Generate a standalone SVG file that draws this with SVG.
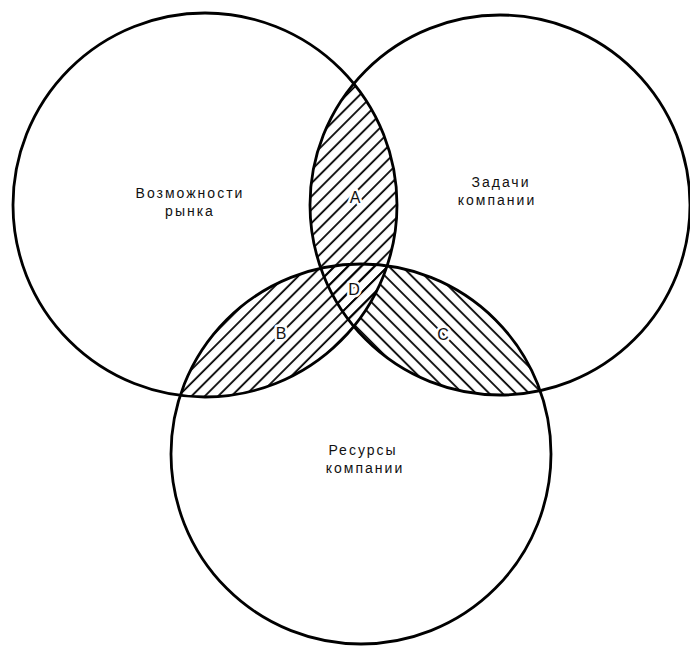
<svg xmlns="http://www.w3.org/2000/svg" width="690" height="648" viewBox="0 0 690 648">
  <style>
    .ring { fill: none; stroke: #000; stroke-width: 2.8; }
    .lbl { font-family: "Liberation Sans", Arial, sans-serif; font-size: 14px; letter-spacing: 2px; fill: #111; text-anchor: middle; }
    .zone { font-family: "Liberation Sans", Arial, sans-serif; font-size: 16px; fill: #111; text-anchor: middle; stroke: #fff; stroke-width: 5; paint-order: stroke; stroke-linejoin: round; }
  </style>
  <defs>
    <pattern id="hatchF" width="9.4" height="20" patternUnits="userSpaceOnUse" patternTransform="rotate(45)">
      <line x1="2" y1="0" x2="2" y2="20" stroke="#000" stroke-width="1.8"/>
    </pattern>
    <pattern id="hatchB" width="9.4" height="20" patternUnits="userSpaceOnUse" patternTransform="rotate(-45)">
      <line x1="2" y1="0" x2="2" y2="20" stroke="#000" stroke-width="1.8"/>
    </pattern>
    <clipPath id="clipL"><circle cx="205" cy="205" r="192"/></clipPath>
    <clipPath id="clipR"><circle cx="500" cy="205" r="190"/></clipPath>
    <mask id="notL" maskUnits="userSpaceOnUse" x="0" y="0" width="690" height="648">
      <rect x="0" y="0" width="690" height="648" fill="#fff"/>
      <circle cx="205" cy="205" r="192" fill="#000"/>
    </mask>
  </defs>
  <rect x="0" y="0" width="690" height="648" fill="#fff"/>

  <g id="hatching">
    <g clip-path="url(#clipL)">
      <circle cx="500" cy="205" r="190" fill="url(#hatchF)"/>
      <circle cx="361" cy="454" r="190" fill="url(#hatchF)"/>
    </g>
    <g clip-path="url(#clipR)">
      <circle cx="361" cy="454" r="190" fill="url(#hatchB)" mask="url(#notL)"/>
    </g>
  </g>

  <g id="market">
    <circle class="ring" cx="205" cy="205" r="192"/>
    <text class="lbl" x="190" y="198">Возможности</text>
    <text class="lbl" x="190" y="216">рынка</text>
  </g>
  <g id="goals">
    <circle class="ring" cx="500" cy="205" r="190"/>
    <text class="lbl" x="501" y="187">Задачи</text>
    <text class="lbl" x="497" y="205">компании</text>
  </g>
  <g id="resources">
    <circle class="ring" cx="361" cy="454" r="190"/>
    <text class="lbl" x="363" y="455">Ресурсы</text>
    <text class="lbl" x="365" y="473">компании</text>
  </g>

  <g id="zones">
    <text class="zone" x="355" y="203">A</text>
    <text class="zone" x="354" y="295">D</text>
    <text class="zone" x="281" y="339">B</text>
    <text class="zone" x="443" y="340">C</text>
  </g>
</svg>
